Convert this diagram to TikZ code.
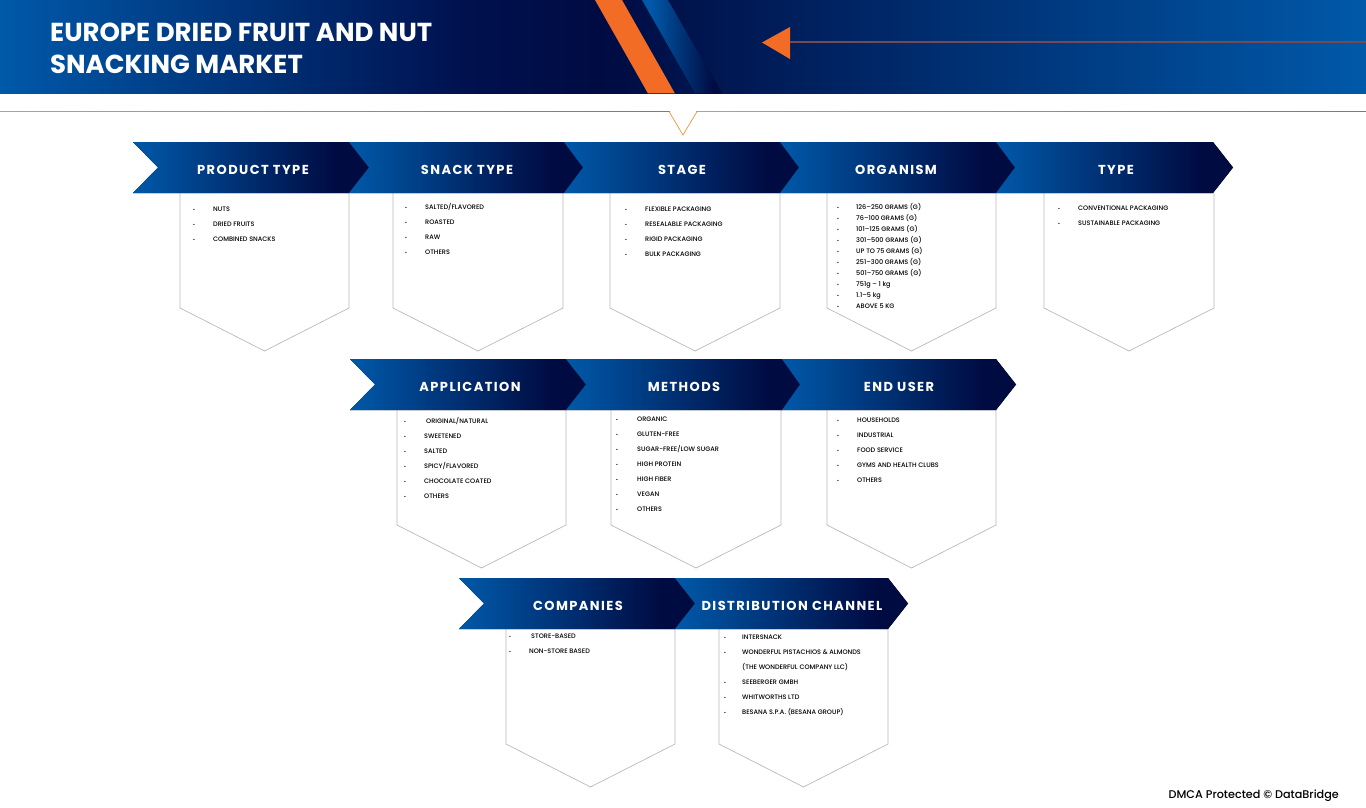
\documentclass[tikz,border=0pt]{standalone}
\usepackage{fontspec}
\setmainfont{Poppins}
\newfontfamily\headfont[LetterSpace=11]{Poppins}
\newfontfamily\itemfont{Poppins Medium}
\usetikzlibrary{calc}

\definecolor{bannerblue}{HTML}{0059A9}
\definecolor{bannernavy}{HTML}{000B42}
\definecolor{bannerdark}{HTML}{00114F}
\definecolor{accentorange}{HTML}{F26C25}
\definecolor{ruleorange}{HTML}{EE9435}
\definecolor{rulered}{HTML}{D9592A}
\definecolor{boxgray}{HTML}{B9B9B9}
\definecolor{arrowline}{HTML}{744A52}

% bbox of a path is mapped on 25bp..75bp
\pgfdeclarehorizontalshading{bannershade}{100bp}{color(0bp)=(bannerblue); color(25bp)=(bannerblue); color(42bp)=(bannerdark); color(47bp)=(bannernavy); color(75bp)=(bannerblue); color(100bp)=(bannerblue)}
\pgfdeclarehorizontalshading{chevronshade}{100bp}{color(0bp)=(bannerblue); color(25bp)=(bannerblue); color(68bp)=(bannernavy); color(100bp)=(bannernavy)}
\pgfdeclarehorizontalshading{stripeshade}{100bp}{color(0bp)=(bannerblue); color(30bp)=(bannerblue); color(70bp)=(bannernavy); color(100bp)=(bannernavy)}

\newcommand\itemlist[6]{%
  \foreach \txt [count=\i] in {#6} {
    \pgfmathsetmacro\yy{#4+(\i-1)*#5}
    \node [dotmark] (#1dot\i) at (#2,\yy) {.};
    \node [itemtext] (#1item\i) at (#3,\yy) {\txt};
  }%
}

\begin{document}
\begin{tikzpicture}[x=1pt, y=-1pt]
    \tikzset{
      itemtext/.style={anchor=base west, inner sep=0pt, yshift=-2.5pt, font=\itemfont\fontsize{6.5}{8}\selectfont, text=black},
      dotmark/.style={anchor=base, inner sep=0pt, yshift=-1pt, font=\bfseries\fontsize{6.5}{8}\selectfont, text=black},
      headtext/.style={anchor=base, inner sep=0pt, font=\headfont\bfseries\fontsize{13}{14}\selectfont, text=white},
      listbox/.style={draw=boxgray, line width=.7pt},
    }
    \useasboundingbox (0,0) rectangle (1366,808);

    % banner
    \fill [shading=bannershade] (0,0) rectangle (1366,93.5);
    \fill [accentorange] (595,0) -- (622,0) -- (675,93.5) -- (648,93.5) -- cycle;
    \fill [shading=stripeshade] (642,0) -- (668,0) -- (722,93.5) -- (695,93.5) -- cycle;
    \fill [accentorange] (762,42.5) -- (790,27) -- (790,59) -- cycle;
    \draw [arrowline, line width=1.2pt] (790,42) -- (1366,42);
    \node [anchor=north west, inner sep=0pt, align=left, text=white,
      font=\bfseries\fontsize{26}{32}\selectfont] (title) at (50,22.5)
      {EUROPE DRIED FRUIT AND NUT\\SNACKING MARKET};

    % rule with the notch
    \fill [left color=ruleorange, right color=rulered] (0,111.1) rectangle (670,111.9);
    \fill [left color=ruleorange, right color=rulered] (696,111.1) rectangle (1366,111.9);
    \draw [ruleorange, line width=.7pt] (669,111.5) -- (683,135) -- (697,111.5);

    % boxes under the chevrons
    \foreach \xa/\xb/\yt/\ys/\yb in {
      180/349/193/308/351, 393/563/193/308/351, 610/780/193/308/351, 827/996/193/308/351, 1044/1214/193/308/351,
      397/566/410/525/568, 611/781/410/525/568, 827/996/410/525/568,
      506/675/629/744/787, 719/888/629/744/787}
      \draw [listbox] (\xa,\yt) -- (\xa,\ys) -- ({(\xa+\xb)/2},\yb) -- (\xb,\ys) -- (\xb,\yt);

    % chevrons
    \foreach \name/\xa/\xn/\xb/\yt/\lx/\txt in {
      product/133/158/349/142/253/PRODUCT TYPE,
      snack/349/369/564/142/467/SNACK TYPE,
      stage/564/583/780/142/682/STAGE,
      organism/780/799/996/142/896/ORGANISM,
      type/996/1015/1213/142/1116/TYPE,
      application/350/375/566/359/470/APPLICATION,
      methods/566/586/782/359/684/METHODS,
      enduser/782/800/996/359/899/END USER,
      companies/459/484/675/578/578/COMPANIES,
      channel/675/695/888/578/792/DISTRIBUTION CHANNEL} {
      \fill [shading=chevronshade] (\xa,\yt) -- (\xb,\yt) -- (\xb+20,\yt+25.5) -- (\xb,\yt+51)
        -- (\xa,\yt+51) -- (\xn,\yt+25.5) -- cycle;
      \node [headtext] (\name) at (\lx,\yt+32) {\txt};
    }

    % lists
    \itemlist{product}{194}{213}{209}{15}{NUTS, DRIED FRUITS, COMBINED SNACKS}
    \itemlist{snack}{406}{425}{207}{15}{SALTED/FLAVORED, ROASTED, RAW, OTHERS}
    \itemlist{stage}{626}{645}{209}{15}{FLEXIBLE PACKAGING, RESEALABLE PACKAGING, RIGID PACKAGING, BULK PACKAGING}
    \itemlist{organism}{838}{856}{207}{11}{126–250 GRAMS (G), 76–100 GRAMS (G), 101–125 GRAMS (G), 301–500 GRAMS (G), UP TO 75 GRAMS (G), 251–300 GRAMS (G), 501–750 GRAMS (G), 751g – 1 kg, 1.1–5 kg, ABOVE 5 KG}
    \itemlist{type}{1059}{1078}{208}{15}{CONVENTIONAL PACKAGING, SUSTAINABLE PACKAGING}
    \itemlist{appa}{405}{426}{421}{15}{ORIGINAL/NATURAL}
    \itemlist{appb}{405}{424}{436}{15}{SWEETENED, SALTED, SPICY/FLAVORED, CHOCOLATE COATED, OTHERS}
    \itemlist{methods}{617}{637}{419}{15}{ORGANIC, GLUTEN-FREE, SUGAR-FREE/LOW SUGAR, HIGH PROTEIN, HIGH FIBER, VEGAN, OTHERS}
    \itemlist{enduser}{838}{857}{420}{15}{HOUSEHOLDS, INDUSTRIAL, FOOD SERVICE, GYMS AND HEALTH CLUBS, OTHERS}
    \itemlist{compa}{510}{531}{636}{15}{STORE-BASED}
    \itemlist{compb}{510}{529}{651}{15}{NON-STORE BASED}
    \itemlist{chana}{725}{742}{637}{15}{INTERSNACK, WONDERFUL PISTACHIOS \& ALMONDS}
    \node [itemtext] (chanwrap) at (742,667) {(THE WONDERFUL COMPANY LLC)};
    \itemlist{chanb}{725}{742}{682}{15}{SEEBERGER GMBH, WHITWORTHS LTD, BESANA S.P.A. (BESANA GROUP)}

    \node [anchor=base east, inner sep=0pt, font=\itemfont\fontsize{11.2}{13}\selectfont] (dmca) at (1339,798) {DMCA Protected © DataBridge};
  \end{tikzpicture}
\end{document}
